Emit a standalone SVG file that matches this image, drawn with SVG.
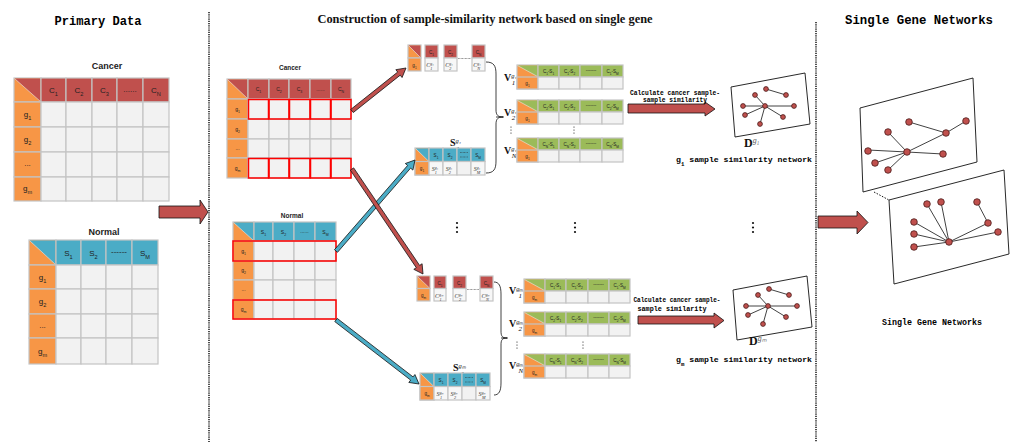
<svg xmlns="http://www.w3.org/2000/svg" width="1010" height="442" viewBox="0 0 1010 442">
<style>
.cl{fill:#f2f2f2;stroke:#c4c4c4;stroke-width:1.2}
.or{fill:#f79646;stroke:#c4c4c4;stroke-width:1.2}
.hr{fill:#c0504d;stroke:#c4c4c4;stroke-width:1.2}
.hb{fill:#4bacc6;stroke:#c4c4c4;stroke-width:1.2}
.hg{fill:#9bbb59;stroke:#c4c4c4;stroke-width:1.2}
.wh{fill:#f7f7f7;stroke:#c4c4c4;stroke-width:1.2}
.rd{fill:none;stroke:#ff0000;stroke-width:1.5}
.dg{stroke:#e8e8e8;stroke-width:0.6}
.tR{fill:#c0504d}.tB{fill:#4bacc6}.tG{fill:#9bbb59}
.s{font-family:"Liberation Sans",Arial,sans-serif;fill:#222;text-anchor:middle}
.f8{font-size:8px}.f5{font-size:5px}.f45{font-size:4.5px}
.lab{font-family:"Liberation Sans",Arial,sans-serif;font-weight:bold;fill:#222;text-anchor:middle}
.m{font-family:"Liberation Serif","Times New Roman",serif;font-style:italic;fill:#333;text-anchor:middle;font-size:6px}
.bm{font-family:"Liberation Serif","Times New Roman",serif;font-weight:bold;fill:#111}
.it{font-style:italic;font-weight:normal}
.sb{font-size:70%;baseline-shift:sub}
.sp{font-size:65%;baseline-shift:super}
.ttl{font-family:"Liberation Mono","DejaVu Sans Mono",monospace;font-weight:bold;fill:#000}
.ar{stroke:#111;stroke-width:0.8;stroke-linejoin:miter}
.nd{fill:#c0504d;stroke:#4a1c1a;stroke-width:0.8}
.ed{stroke:#111;stroke-width:0.8;fill:none}
.pl{fill:#fff;stroke:#111;stroke-width:0.9}
.dv{stroke:#222;stroke-width:1.6;stroke-dasharray:1.2,1;fill:none}
.dl{stroke:#333;stroke-width:0.6;stroke-dasharray:0.8,0.6}
.dot{fill:#111}
</style>

<!-- titles -->
<g id="titles">
<text class="ttl" x="98" y="25" font-size="12.5" text-anchor="middle" textLength="87" lengthAdjust="spacingAndGlyphs">Primary Data</text>
<text class="bm" x="485" y="23" font-size="12" text-anchor="middle" textLength="335" lengthAdjust="spacingAndGlyphs">Construction of sample-similarity network based on single gene</text>
<text class="ttl" x="919" y="24" font-size="13" text-anchor="middle" textLength="148" lengthAdjust="spacingAndGlyphs">Single Gene Networks</text>
</g>

<!-- dividers -->
<g id="dividers">
<line class="dv" x1="209" y1="12" x2="209" y2="442"/>
<line class="dv" x1="816" y1="22" x2="816" y2="442"/>
</g>

<!-- primary cancer table -->
<g id="primary-cancer">
<text class="lab" x="107" y="69" font-size="9">Cancer</text>
<rect class="or" x="14" y="78" width="27" height="24"/>
<polygon class="tR" points="14.6,78.6 40.4,78.6 40.4,101.4"/>
<line class="dg" x1="14.6" y1="78.6" x2="40.4" y2="101.4"/>
<rect class="hr" x="41" y="78" width="25" height="24"/>
<rect class="hr" x="66" y="78" width="26" height="24"/>
<rect class="hr" x="92" y="78" width="25" height="24"/>
<rect class="hr" x="117" y="78" width="26" height="24"/>
<rect class="hr" x="143" y="78" width="26" height="24"/>
<text class="s f8" x="53.5" y="93">C<tspan class="sb">1</tspan></text>
<text class="s f8" x="79" y="93">C<tspan class="sb">2</tspan></text>
<text class="s f8" x="104.5" y="93">C<tspan class="sb">3</tspan></text>
<text class="s f8" x="130" y="92">......</text>
<text class="s f8" x="156" y="93">C<tspan class="sb">N</tspan></text>
<rect class="or" x="14" y="102" width="27" height="25"/>
<rect class="or" x="14" y="127" width="27" height="25"/>
<rect class="or" x="14" y="152" width="27" height="25"/>
<rect class="or" x="14" y="177" width="27" height="24"/>
<text class="s f8" x="27.5" y="117">g<tspan class="sb">1</tspan></text>
<text class="s f8" x="27.5" y="142">g<tspan class="sb">2</tspan></text>
<text class="s f8" x="27.5" y="166">...</text>
<text class="s f8" x="27.5" y="191">g<tspan class="sb">m</tspan></text>
<rect class="cl" x="41" y="102" width="25" height="25"/><rect class="cl" x="66" y="102" width="26" height="25"/><rect class="cl" x="92" y="102" width="25" height="25"/><rect class="cl" x="117" y="102" width="26" height="25"/><rect class="cl" x="143" y="102" width="26" height="25"/>
<rect class="cl" x="41" y="127" width="25" height="25"/><rect class="cl" x="66" y="127" width="26" height="25"/><rect class="cl" x="92" y="127" width="25" height="25"/><rect class="cl" x="117" y="127" width="26" height="25"/><rect class="cl" x="143" y="127" width="26" height="25"/>
<rect class="cl" x="41" y="152" width="25" height="25"/><rect class="cl" x="66" y="152" width="26" height="25"/><rect class="cl" x="92" y="152" width="25" height="25"/><rect class="cl" x="117" y="152" width="26" height="25"/><rect class="cl" x="143" y="152" width="26" height="25"/>
<rect class="cl" x="41" y="177" width="25" height="24"/><rect class="cl" x="66" y="177" width="26" height="24"/><rect class="cl" x="92" y="177" width="25" height="24"/><rect class="cl" x="117" y="177" width="26" height="24"/><rect class="cl" x="143" y="177" width="26" height="24"/>
</g>

<!-- primary normal table -->
<g id="primary-normal">
<text class="lab" x="104" y="235" font-size="9">Normal</text>
<rect class="or" x="29" y="240" width="27" height="25"/>
<polygon class="tB" points="29.6,240.6 55.4,240.6 55.4,264.4"/>
<line class="dg" x1="29.6" y1="240.6" x2="55.4" y2="264.4"/>
<rect class="hb" x="56" y="240" width="25" height="25"/>
<rect class="hb" x="81" y="240" width="25" height="25"/>
<rect class="hb" x="106" y="240" width="26" height="25"/>
<rect class="hb" x="132" y="240" width="26" height="25"/>
<text class="s f8" x="68.5" y="256">S<tspan class="sb">1</tspan></text>
<text class="s f8" x="93.5" y="256">S<tspan class="sb">2</tspan></text>
<text class="s f8" x="119" y="254">------</text>
<text class="s f8" x="145" y="256">S<tspan class="sb">M</tspan></text>
<rect class="or" x="29" y="265" width="27" height="24"/>
<rect class="or" x="29" y="289" width="27" height="25"/>
<rect class="or" x="29" y="314" width="27" height="24"/>
<rect class="or" x="29" y="338" width="27" height="26"/>
<text class="s f8" x="42.5" y="280">g<tspan class="sb">1</tspan></text>
<text class="s f8" x="42.5" y="304">g<tspan class="sb">2</tspan></text>
<text class="s f8" x="42.5" y="328">...</text>
<text class="s f8" x="42.5" y="354">g<tspan class="sb">m</tspan></text>
<rect class="cl" x="56" y="265" width="25" height="24"/><rect class="cl" x="81" y="265" width="25" height="24"/><rect class="cl" x="106" y="265" width="26" height="24"/><rect class="cl" x="132" y="265" width="26" height="24"/>
<rect class="cl" x="56" y="289" width="25" height="25"/><rect class="cl" x="81" y="289" width="25" height="25"/><rect class="cl" x="106" y="289" width="26" height="25"/><rect class="cl" x="132" y="289" width="26" height="25"/>
<rect class="cl" x="56" y="314" width="25" height="24"/><rect class="cl" x="81" y="314" width="25" height="24"/><rect class="cl" x="106" y="314" width="26" height="24"/><rect class="cl" x="132" y="314" width="26" height="24"/>
<rect class="cl" x="56" y="338" width="25" height="26"/><rect class="cl" x="81" y="338" width="25" height="26"/><rect class="cl" x="106" y="338" width="26" height="26"/><rect class="cl" x="132" y="338" width="26" height="26"/>
</g>

<!-- middle cancer table -->
<g id="mid-cancer">
<text class="lab" x="290" y="70" font-size="6.5">Cancer</text>
<rect class="or" x="227" y="79" width="21" height="20"/>
<polygon class="tR" points="227.6,79.6 247.4,79.6 247.4,98.4"/>
<line class="dg" x1="227.6" y1="79.6" x2="247.4" y2="98.4"/>
<rect class="hr" x="248" y="79" width="21" height="20"/><rect class="hr" x="269" y="79" width="20" height="20"/><rect class="hr" x="289" y="79" width="21" height="20"/><rect class="hr" x="310" y="79" width="21" height="20"/><rect class="hr" x="331" y="79" width="20" height="20"/>
<text class="s f5" x="258.5" y="91">C<tspan class="sb">1</tspan></text>
<text class="s f5" x="279" y="91">C<tspan class="sb">2</tspan></text>
<text class="s f5" x="299.5" y="91">C<tspan class="sb">3</tspan></text>
<text class="s f5" x="320.5" y="90.5">......</text>
<text class="s f5" x="341" y="91">C<tspan class="sb">N</tspan></text>
<rect class="or" x="227" y="99" width="21" height="20"/><rect class="or" x="227" y="119" width="21" height="20"/><rect class="or" x="227" y="139" width="21" height="19"/><rect class="or" x="227" y="158" width="21" height="20"/>
<text class="s f5" x="237.5" y="111">g<tspan class="sb">1</tspan></text>
<text class="s f5" x="237.5" y="131">g<tspan class="sb">2</tspan></text>
<text class="s f5" x="237.5" y="150">...</text>
<text class="s f5" x="237.5" y="170">g<tspan class="sb">m</tspan></text>
<rect class="cl" x="248" y="119" width="21" height="20"/><rect class="cl" x="269" y="119" width="20" height="20"/><rect class="cl" x="289" y="119" width="21" height="20"/><rect class="cl" x="310" y="119" width="21" height="20"/><rect class="cl" x="331" y="119" width="20" height="20"/>
<rect class="cl" x="248" y="139" width="21" height="19"/><rect class="cl" x="269" y="139" width="20" height="19"/><rect class="cl" x="289" y="139" width="21" height="19"/><rect class="cl" x="310" y="139" width="21" height="19"/><rect class="cl" x="331" y="139" width="20" height="19"/>
<rect class="cl" x="248" y="99" width="21" height="20"/><rect class="cl" x="269" y="99" width="20" height="20"/><rect class="cl" x="289" y="99" width="21" height="20"/><rect class="cl" x="310" y="99" width="21" height="20"/><rect class="cl" x="331" y="99" width="20" height="20"/>
<rect class="cl" x="248" y="158" width="21" height="20"/><rect class="cl" x="269" y="158" width="20" height="20"/><rect class="cl" x="289" y="158" width="21" height="20"/><rect class="cl" x="310" y="158" width="21" height="20"/><rect class="cl" x="331" y="158" width="20" height="20"/>
<rect class="rd" x="248.5" y="99.5" width="20" height="19.5"/><rect class="rd" x="269" y="99.5" width="20" height="19.5"/><rect class="rd" x="289.5" y="99.5" width="20.5" height="19.5"/><rect class="rd" x="310.5" y="99.5" width="20" height="19.5"/><rect class="rd" x="331" y="99.5" width="20" height="19.5"/>
<rect class="rd" x="248.5" y="158.5" width="20" height="19.5"/><rect class="rd" x="269" y="158.5" width="20" height="19.5"/><rect class="rd" x="289.5" y="158.5" width="20.5" height="19.5"/><rect class="rd" x="310.5" y="158.5" width="20" height="19.5"/><rect class="rd" x="331" y="158.5" width="20" height="19.5"/>
</g>

<!-- middle normal table -->
<g id="mid-normal">
<text class="lab" x="292" y="218" font-size="6.5">Normal</text>
<rect class="or" x="233" y="222" width="21" height="19"/>
<polygon class="tB" points="233.6,222.6 253.4,222.6 253.4,240.4"/>
<line class="dg" x1="233.6" y1="222.6" x2="253.4" y2="240.4"/>
<rect class="hb" x="254" y="222" width="19" height="19"/><rect class="hb" x="273" y="222" width="21" height="19"/><rect class="hb" x="294" y="222" width="21" height="19"/><rect class="hb" x="315" y="222" width="21" height="19"/>
<text class="s f5" x="263.5" y="233.5">S<tspan class="sb">1</tspan></text>
<text class="s f5" x="283.5" y="233.5">S<tspan class="sb">2</tspan></text>
<text class="s f5" x="304.5" y="233">......</text>
<text class="s f5" x="325.5" y="233.5">S<tspan class="sb">M</tspan></text>
<rect class="or" x="233" y="241" width="21" height="20"/><rect class="or" x="233" y="261" width="21" height="19"/><rect class="or" x="233" y="280" width="21" height="20"/><rect class="or" x="233" y="300" width="21" height="19"/>
<text class="s f5" x="243.5" y="253">g<tspan class="sb">1</tspan></text>
<text class="s f5" x="243.5" y="272">g<tspan class="sb">2</tspan></text>
<text class="s f5" x="243.5" y="291">...</text>
<text class="s f5" x="243.5" y="311">g<tspan class="sb">m</tspan></text>
<rect class="cl" x="254" y="241" width="19" height="20"/><rect class="cl" x="273" y="241" width="21" height="20"/><rect class="cl" x="294" y="241" width="21" height="20"/><rect class="cl" x="315" y="241" width="21" height="20"/>
<rect class="cl" x="254" y="261" width="19" height="19"/><rect class="cl" x="273" y="261" width="21" height="19"/><rect class="cl" x="294" y="261" width="21" height="19"/><rect class="cl" x="315" y="261" width="21" height="19"/>
<rect class="cl" x="254" y="280" width="19" height="20"/><rect class="cl" x="273" y="280" width="21" height="20"/><rect class="cl" x="294" y="280" width="21" height="20"/><rect class="cl" x="315" y="280" width="21" height="20"/>
<rect class="cl" x="254" y="300" width="19" height="19"/><rect class="cl" x="273" y="300" width="21" height="19"/><rect class="cl" x="294" y="300" width="21" height="19"/><rect class="cl" x="315" y="300" width="21" height="19"/>
<rect class="rd" x="233" y="241" width="103" height="20"/>
<rect class="rd" x="233" y="300" width="103" height="19"/>
</g>

<!-- C vectors g1 -->
<g id="c-vector-g1">
<rect class="or" x="408" y="45" width="13" height="13"/>
<polygon class="tR" points="408.6,45.6 420.4,45.6 420.4,57.4"/>
<line class="dg" x1="408.6" y1="45.6" x2="420.4" y2="57.4"/>
<rect class="or" x="408" y="58" width="13" height="13"/>
<text class="s f45" x="414.5" y="66.5">g<tspan class="sb">1</tspan></text>
<rect class="hr" x="425" y="45" width="13" height="13"/><rect class="wh" x="425" y="58" width="13" height="13"/>
<rect class="hr" x="444" y="45" width="13" height="13"/><rect class="wh" x="444" y="58" width="13" height="13"/>
<rect class="hr" x="472" y="45" width="13" height="13"/><rect class="wh" x="472" y="58" width="13" height="13"/>
<text class="s f45" x="431.5" y="53.5">C<tspan class="sb">1</tspan></text>
<text class="s f45" x="450.5" y="53.5">C<tspan class="sb">2</tspan></text>
<text class="s f45" x="478.5" y="53.5">C<tspan class="sb">N</tspan></text>
<text class="m" x="430" y="67">C<tspan class="sp">g₁</tspan><tspan class="sb" dx="-3.5">1</tspan></text>
<text class="m" x="449" y="67">C<tspan class="sp">g₁</tspan><tspan class="sb" dx="-3.5">2</tspan></text>
<text class="m" x="477" y="67">C<tspan class="sp">g₁</tspan><tspan class="sb" dx="-3.5">N</tspan></text>
<line class="dl" x1="458" y1="58.5" x2="471" y2="58.5"/>
</g>

<!-- S vector g1 -->
<g id="s-vector-g1">
<text class="bm" x="450" y="146" font-size="10">S<tspan class="sp it">g₁</tspan><tspan class="sb" dx="-4">·</tspan></text>
<rect class="or" x="415" y="148" width="14" height="27"/>
<polygon class="tB" points="415.6,148.6 428.4,148.6 428.4,161"/>
<line class="dg" x1="415.6" y1="148.6" x2="428.4" y2="161"/>
<rect class="or" x="415" y="161.5" width="14" height="13.5"/>
<text class="s f45" x="422" y="170">g<tspan class="sb">1</tspan></text>
<rect class="hb" x="429" y="148" width="14" height="13.5"/><rect class="hb" x="443" y="148" width="14" height="13.5"/><rect class="hb" x="457" y="148" width="14" height="13.5"/><rect class="hb" x="471" y="148" width="14" height="13.5"/>
<text class="s f45" x="436" y="156.5">S<tspan class="sb">1</tspan></text>
<text class="s f45" x="450" y="156.5">S<tspan class="sb">2</tspan></text>
<line class="dl" x1="460" y1="152.5" x2="468" y2="152.5"/><line class="dl" x1="460" y1="157" x2="468" y2="157"/>
<text class="s f45" x="478" y="156.5">S<tspan class="sb">M</tspan></text>
<rect class="wh" x="429" y="161.5" width="14" height="13.5"/><rect class="wh" x="443" y="161.5" width="14" height="13.5"/><rect class="cl" x="457" y="161.5" width="14" height="13.5"/><rect class="wh" x="471" y="161.5" width="14" height="13.5"/>
<text class="m" x="435" y="171">S<tspan class="sp">g₁</tspan><tspan class="sb" dx="-3.5">1</tspan></text>
<text class="m" x="449" y="171">S<tspan class="sp">g₁</tspan><tspan class="sb" dx="-3.5">2</tspan></text>
<text class="m" x="477" y="171">S<tspan class="sp">g₁</tspan><tspan class="sb" dx="-3.5">M</tspan></text>
</g>

<!-- brace g1 -->
<g id="brace-g1">
<path class="ed" stroke-width="1.2" d="M486,62 C494,62 496,66 496,74 L496,110 C496,115 498,117 503,117 C498,117 496,119 496,124 L496,161 C496,169 494,173 486,173"/>
<line class="ed" stroke-width="1.6" x1="496" y1="117" x2="504" y2="117"/>
</g>

<!-- V vectors g1 -->
<g id="v-vectors-g1">
<text class="bm" x="504" y="81" font-size="10">V<tspan class="sp it">g₁</tspan><tspan class="sb it" dx="-5">1</tspan></text>
<text class="bm" x="504" y="116" font-size="10">V<tspan class="sp it">g₁</tspan><tspan class="sb it" dx="-5">2</tspan></text>
<text class="bm" x="504" y="154" font-size="10">V<tspan class="sp it">g₁</tspan><tspan class="sb it" dx="-5">N</tspan></text>
<!-- V1 -->
<rect class="or" x="517" y="65" width="21" height="24"/>
<polygon class="tG" points="517.6,65.6 537.4,65.6 537.4,76.4"/><line class="dg" x1="517.6" y1="65.6" x2="537.4" y2="76.4"/>
<rect class="or" x="517" y="77" width="21" height="12"/>
<rect class="hg" x="538" y="65" width="21" height="12"/><rect class="hg" x="559" y="65" width="21" height="12"/><rect class="hg" x="580" y="65" width="22" height="12"/><rect class="hg" x="602" y="65" width="21" height="12"/>
<rect class="cl" x="538" y="77" width="21" height="12"/><rect class="cl" x="559" y="77" width="21" height="12"/><rect class="cl" x="580" y="77" width="22" height="12"/><rect class="cl" x="602" y="77" width="21" height="12"/>
<text class="s f45" x="548.5" y="72.5">C<tspan class="sb">1</tspan>-S<tspan class="sb">1</tspan></text>
<text class="s f45" x="569.5" y="72.5">C<tspan class="sb">1</tspan>-S<tspan class="sb">2</tspan></text>
<text class="s f45" x="591" y="72">-------</text>
<text class="s f45" x="612.5" y="72.5">C<tspan class="sb">1</tspan>-S<tspan class="sb">M</tspan></text>
<text class="s f45" x="527.5" y="85">g<tspan class="sb">1</tspan></text>
<!-- V2 -->
<rect class="or" x="517" y="100" width="21" height="24"/>
<polygon class="tG" points="517.6,100.6 537.4,100.6 537.4,111.4"/><line class="dg" x1="517.6" y1="100.6" x2="537.4" y2="111.4"/>
<rect class="or" x="517" y="112" width="21" height="12"/>
<rect class="hg" x="538" y="100" width="21" height="12"/><rect class="hg" x="559" y="100" width="21" height="12"/><rect class="hg" x="580" y="100" width="22" height="12"/><rect class="hg" x="602" y="100" width="21" height="12"/>
<rect class="cl" x="538" y="112" width="21" height="12"/><rect class="cl" x="559" y="112" width="21" height="12"/><rect class="cl" x="580" y="112" width="22" height="12"/><rect class="cl" x="602" y="112" width="21" height="12"/>
<text class="s f45" x="548.5" y="107.5">C<tspan class="sb">2</tspan>-S<tspan class="sb">1</tspan></text>
<text class="s f45" x="569.5" y="107.5">C<tspan class="sb">2</tspan>-S<tspan class="sb">2</tspan></text>
<text class="s f45" x="591" y="107">-------</text>
<text class="s f45" x="612.5" y="107.5">C<tspan class="sb">2</tspan>-S<tspan class="sb">M</tspan></text>
<text class="s f45" x="527.5" y="120">g<tspan class="sb">1</tspan></text>
<!-- VN -->
<rect class="or" x="517" y="138" width="21" height="24"/>
<polygon class="tG" points="517.6,138.6 537.4,138.6 537.4,149.4"/><line class="dg" x1="517.6" y1="138.6" x2="537.4" y2="149.4"/>
<rect class="or" x="517" y="150" width="21" height="12"/>
<rect class="hg" x="538" y="138" width="21" height="12"/><rect class="hg" x="559" y="138" width="21" height="12"/><rect class="hg" x="580" y="138" width="22" height="12"/><rect class="hg" x="602" y="138" width="21" height="12"/>
<rect class="cl" x="538" y="150" width="21" height="12"/><rect class="cl" x="559" y="150" width="21" height="12"/><rect class="cl" x="580" y="150" width="22" height="12"/><rect class="cl" x="602" y="150" width="21" height="12"/>
<text class="s f45" x="548.5" y="145.5">C<tspan class="sb">N</tspan>-S<tspan class="sb">1</tspan></text>
<text class="s f45" x="569.5" y="145.5">C<tspan class="sb">N</tspan>-S<tspan class="sb">2</tspan></text>
<text class="s f45" x="591" y="145">-------</text>
<text class="s f45" x="612.5" y="145.5">C<tspan class="sb">N</tspan>-S<tspan class="sb">M</tspan></text>
<text class="s f45" x="527.5" y="158">g<tspan class="sb">1</tspan></text>
<circle class="dot" cx="511" cy="127" r="0.6"/><circle class="dot" cx="511" cy="130" r="0.6"/><circle class="dot" cx="511" cy="133" r="0.6"/>
<circle class="dot" cx="574" cy="127" r="0.6"/><circle class="dot" cx="574" cy="130" r="0.6"/><circle class="dot" cx="574" cy="133" r="0.6"/>
</g>

<!-- C vectors gm -->
<g id="c-vector-gm">
<rect class="or" x="417" y="276" width="13" height="12.5"/>
<polygon class="tR" points="417.6,276.6 429.4,276.6 429.4,287.9"/>
<line class="dg" x1="417.6" y1="276.6" x2="429.4" y2="287.9"/>
<rect class="or" x="417" y="288.5" width="13" height="12.5"/>
<text class="s f45" x="423.5" y="297">g<tspan class="sb">m</tspan></text>
<rect class="hr" x="434" y="276" width="12" height="12.5"/><rect class="wh" x="434" y="288.5" width="12" height="12.5"/>
<rect class="hr" x="453" y="276" width="13" height="12.5"/><rect class="wh" x="453" y="288.5" width="13" height="12.5"/>
<rect class="hr" x="480" y="276" width="13" height="12.5"/><rect class="wh" x="480" y="288.5" width="13" height="12.5"/>
<text class="s f45" x="440" y="284.5">C<tspan class="sb">1</tspan></text>
<text class="s f45" x="459.5" y="284.5">C<tspan class="sb">2</tspan></text>
<text class="s f45" x="486.5" y="284.5">C<tspan class="sb">N</tspan></text>
<text class="m" x="439" y="297.5">C<tspan class="sp">gₘ</tspan><tspan class="sb" dx="-3.5">1</tspan></text>
<text class="m" x="458.5" y="297.5">C<tspan class="sp">gₘ</tspan><tspan class="sb" dx="-3.5">2</tspan></text>
<text class="m" x="485.5" y="297.5">C<tspan class="sp">gₘ</tspan><tspan class="sb" dx="-3.5">N</tspan></text>
<line class="dl" x1="467" y1="289.5" x2="479" y2="289.5"/>
</g>

<!-- S vector gm -->
<g id="s-vector-gm">
<text class="bm" x="453" y="371" font-size="10">S<tspan class="sp it">gₘ</tspan><tspan class="sb" dx="-4">·</tspan></text>
<rect class="or" x="420" y="373" width="14" height="27"/>
<polygon class="tB" points="420.6,373.6 433.4,373.6 433.4,386"/>
<line class="dg" x1="420.6" y1="373.6" x2="433.4" y2="386"/>
<rect class="or" x="420" y="386.5" width="14" height="13.5"/>
<text class="s f45" x="427" y="395">g<tspan class="sb">m</tspan></text>
<rect class="hb" x="434" y="373" width="14" height="13.5"/><rect class="hb" x="448" y="373" width="14" height="13.5"/><rect class="hb" x="462" y="373" width="14" height="13.5"/><rect class="hb" x="476" y="373" width="14" height="13.5"/>
<text class="s f45" x="441" y="381.5">S<tspan class="sb">1</tspan></text>
<text class="s f45" x="455" y="381.5">S<tspan class="sb">2</tspan></text>
<line class="dl" x1="465" y1="377.5" x2="473" y2="377.5"/><line class="dl" x1="465" y1="382" x2="473" y2="382"/>
<text class="s f45" x="483" y="381.5">S<tspan class="sb">M</tspan></text>
<rect class="wh" x="434" y="386.5" width="14" height="13.5"/><rect class="wh" x="448" y="386.5" width="14" height="13.5"/><rect class="cl" x="462" y="386.5" width="14" height="13.5"/><rect class="wh" x="476" y="386.5" width="14" height="13.5"/>
<text class="m" x="440" y="396">S<tspan class="sp">gₘ</tspan><tspan class="sb" dx="-3.5">1</tspan></text>
<text class="m" x="454" y="396">S<tspan class="sp">gₘ</tspan><tspan class="sb" dx="-3.5">2</tspan></text>
<text class="m" x="482" y="396">S<tspan class="sp">gₘ</tspan><tspan class="sb" dx="-3.5">M</tspan></text>
</g>

<!-- brace gm -->
<g id="brace-gm">
<path class="ed" stroke-width="1.2" d="M494,282 C499,282 501,286 501,294 L501,331 C501,336 502,338 507,338 C502,338 501,340 501,345 L501,383 C501,391 499,395 494,395"/>
<line class="ed" stroke-width="1.6" x1="501" y1="338" x2="508" y2="338"/>
</g>

<!-- V vectors gm -->
<g id="v-vectors-gm">
<text class="bm" x="509" y="294" font-size="10">V<tspan class="sp it">gₘ</tspan><tspan class="sb it" dx="-5">1</tspan></text>
<text class="bm" x="509" y="327" font-size="10">V<tspan class="sp it">gₘ</tspan><tspan class="sb it" dx="-5">2</tspan></text>
<text class="bm" x="509" y="369" font-size="10">V<tspan class="sp it">gₘ</tspan><tspan class="sb it" dx="-5">N</tspan></text>
<!-- V1 -->
<rect class="or" x="524" y="279" width="21" height="24"/>
<polygon class="tG" points="524.6,279.6 544.4,279.6 544.4,290.4"/><line class="dg" x1="524.6" y1="279.6" x2="544.4" y2="290.4"/>
<rect class="or" x="524" y="291" width="21" height="12"/>
<rect class="hg" x="545" y="279" width="21" height="12"/><rect class="hg" x="566" y="279" width="22" height="12"/><rect class="hg" x="588" y="279" width="21" height="12"/><rect class="hg" x="609" y="279" width="21" height="12"/>
<rect class="cl" x="545" y="291" width="21" height="12"/><rect class="cl" x="566" y="291" width="22" height="12"/><rect class="cl" x="588" y="291" width="21" height="12"/><rect class="cl" x="609" y="291" width="21" height="12"/>
<text class="s f45" x="555.5" y="286.5">C<tspan class="sb">1</tspan>-S<tspan class="sb">1</tspan></text>
<text class="s f45" x="577" y="286.5">C<tspan class="sb">1</tspan>-S<tspan class="sb">2</tspan></text>
<text class="s f45" x="598.5" y="286">-------</text>
<text class="s f45" x="619.5" y="286.5">C<tspan class="sb">1</tspan>-S<tspan class="sb">M</tspan></text>
<text class="s f45" x="534.5" y="299">g<tspan class="sb">m</tspan></text>
<!-- V2 -->
<rect class="or" x="524" y="312" width="21" height="24"/>
<polygon class="tG" points="524.6,312.6 544.4,312.6 544.4,323.4"/><line class="dg" x1="524.6" y1="312.6" x2="544.4" y2="323.4"/>
<rect class="or" x="524" y="324" width="21" height="12"/>
<rect class="hg" x="545" y="312" width="21" height="12"/><rect class="hg" x="566" y="312" width="22" height="12"/><rect class="hg" x="588" y="312" width="21" height="12"/><rect class="hg" x="609" y="312" width="21" height="12"/>
<rect class="cl" x="545" y="324" width="21" height="12"/><rect class="cl" x="566" y="324" width="22" height="12"/><rect class="cl" x="588" y="324" width="21" height="12"/><rect class="cl" x="609" y="324" width="21" height="12"/>
<text class="s f45" x="555.5" y="319.5">C<tspan class="sb">2</tspan>-S<tspan class="sb">1</tspan></text>
<text class="s f45" x="577" y="319.5">C<tspan class="sb">2</tspan>-S<tspan class="sb">2</tspan></text>
<text class="s f45" x="598.5" y="319">-------</text>
<text class="s f45" x="619.5" y="319.5">C<tspan class="sb">2</tspan>-S<tspan class="sb">M</tspan></text>
<text class="s f45" x="534.5" y="332">g<tspan class="sb">m</tspan></text>
<!-- VN -->
<rect class="or" x="524" y="354" width="21" height="24"/>
<polygon class="tG" points="524.6,354.6 544.4,354.6 544.4,365.4"/><line class="dg" x1="524.6" y1="354.6" x2="544.4" y2="365.4"/>
<rect class="or" x="524" y="366" width="21" height="12"/>
<rect class="hg" x="545" y="354" width="21" height="12"/><rect class="hg" x="566" y="354" width="22" height="12"/><rect class="hg" x="588" y="354" width="21" height="12"/><rect class="hg" x="609" y="354" width="21" height="12"/>
<rect class="cl" x="545" y="366" width="21" height="12"/><rect class="cl" x="566" y="366" width="22" height="12"/><rect class="cl" x="588" y="366" width="21" height="12"/><rect class="cl" x="609" y="366" width="21" height="12"/>
<text class="s f45" x="555.5" y="361.5">C<tspan class="sb">N</tspan>-S<tspan class="sb">1</tspan></text>
<text class="s f45" x="577" y="361.5">C<tspan class="sb">N</tspan>-S<tspan class="sb">2</tspan></text>
<text class="s f45" x="598.5" y="361">-------</text>
<text class="s f45" x="619.5" y="361.5">C<tspan class="sb">N</tspan>-S<tspan class="sb">M</tspan></text>
<text class="s f45" x="534.5" y="374">g<tspan class="sb">m</tspan></text>
<circle class="dot" cx="517" cy="342" r="0.6"/><circle class="dot" cx="517" cy="345" r="0.6"/><circle class="dot" cx="517" cy="348" r="0.6"/>
<circle class="dot" cx="583" cy="342" r="0.6"/><circle class="dot" cx="583" cy="345" r="0.6"/><circle class="dot" cx="583" cy="348" r="0.6"/>
</g>

<!-- vertical ellipsis -->
<g id="ellipsis">
<circle class="dot" cx="457" cy="223" r="1.1"/><circle class="dot" cx="457" cy="227.5" r="1.1"/><circle class="dot" cx="457" cy="232" r="1.1"/>
<circle class="dot" cx="575" cy="223" r="1.1"/><circle class="dot" cx="575" cy="227.5" r="1.1"/><circle class="dot" cx="575" cy="232" r="1.1"/>
<circle class="dot" cx="753" cy="223" r="1.1"/><circle class="dot" cx="753" cy="227.5" r="1.1"/><circle class="dot" cx="753" cy="232" r="1.1"/>
</g>

<!-- network g1 -->
<g id="network-g1">
<polygon class="pl" points="731,87 805,73 810,124 735,137"/>
<g class="ed">
<line x1="765" y1="106" x2="755" y2="95"/><line x1="765" y1="106" x2="743" y2="106"/><line x1="765" y1="106" x2="794" y2="106"/><line x1="765" y1="106" x2="745" y2="115"/><line x1="765" y1="106" x2="783" y2="117"/><line x1="765" y1="106" x2="760" y2="124"/><line x1="766" y1="89" x2="786" y2="95"/>
</g>
<circle class="nd" cx="765" cy="106" r="2.4"/><circle class="nd" cx="755" cy="95" r="2.4"/><circle class="nd" cx="766" cy="89" r="2.4"/><circle class="nd" cx="786" cy="95" r="2.4"/><circle class="nd" cx="743" cy="106" r="2.4"/><circle class="nd" cx="794" cy="106" r="2.4"/><circle class="nd" cx="745" cy="115" r="2.4"/><circle class="nd" cx="783" cy="117" r="2.4"/><circle class="nd" cx="760" cy="124" r="2.4"/>
<text class="bm" x="744" y="147" font-size="12">D<tspan class="sp it" font-size="7" fill="#555">g₁</tspan></text>
<text class="ttl" x="744" y="162" font-size="8" text-anchor="middle" textLength="136" lengthAdjust="spacingAndGlyphs">g<tspan class="sb">1</tspan> sample similarity network</text>
</g>

<!-- network gm -->
<g id="network-gm">
<polygon class="pl" points="733,290 807,276 812,327 737,340"/>
<g class="ed">
<line x1="768" y1="306" x2="758" y2="295"/><line x1="768" y1="306" x2="746" y2="306"/><line x1="768" y1="306" x2="797" y2="306"/><line x1="768" y1="306" x2="748" y2="315"/><line x1="768" y1="306" x2="786" y2="317"/><line x1="768" y1="306" x2="763" y2="324"/><line x1="769" y1="289" x2="789" y2="295"/>
</g>
<circle class="nd" cx="768" cy="306" r="2.4"/><circle class="nd" cx="758" cy="295" r="2.4"/><circle class="nd" cx="769" cy="289" r="2.4"/><circle class="nd" cx="789" cy="295" r="2.4"/><circle class="nd" cx="746" cy="306" r="2.4"/><circle class="nd" cx="797" cy="306" r="2.4"/><circle class="nd" cx="748" cy="315" r="2.4"/><circle class="nd" cx="786" cy="317" r="2.4"/><circle class="nd" cx="763" cy="324" r="2.4"/>
<text class="bm" x="749" y="345" font-size="12">D<tspan class="sp it" font-size="7" fill="#555">gₘ</tspan></text>
<text class="ttl" x="744" y="362" font-size="8" text-anchor="middle" textLength="136" lengthAdjust="spacingAndGlyphs">g<tspan class="sb">m</tspan> sample similarity network</text>
</g>

<!-- single gene networks (right) -->
<g id="single-gene-networks">
<polygon class="pl" points="860,108 973,78 977,162 863,192"/>
<g class="ed">
<line x1="909" y1="122" x2="946" y2="133"/><line x1="946" y1="133" x2="966" y2="121"/><line x1="946" y1="133" x2="907" y2="152"/><line x1="888" y1="132" x2="907" y2="152"/><line x1="868" y1="150" x2="907" y2="152"/><line x1="907" y1="152" x2="943" y2="154"/><line x1="907" y1="152" x2="875" y2="163"/><line x1="907" y1="152" x2="888" y2="170"/>
</g>
<circle class="nd" cx="909" cy="122" r="3.3"/><circle class="nd" cx="966" cy="121" r="3.3"/><circle class="nd" cx="946" cy="133" r="3.3"/><circle class="nd" cx="888" cy="132" r="3.3"/><circle class="nd" cx="868" cy="151" r="3.3"/><circle class="nd" cx="907" cy="152" r="3.3"/><circle class="nd" cx="943" cy="154" r="3.3"/><circle class="nd" cx="875" cy="163" r="3.3"/><circle class="nd" cx="888" cy="170" r="3.3"/>
<line x1="874" y1="192" x2="902" y2="207" stroke="#111" stroke-width="1" stroke-dasharray="1.5,1.5"/>
<polygon class="pl" points="889,200 1004,170 1009,254 894,284"/>
<g class="ed">
<line x1="949" y1="242" x2="927" y2="204"/><line x1="949" y1="242" x2="941" y2="202"/><line x1="949" y1="242" x2="914" y2="222"/><line x1="949" y1="242" x2="914" y2="234"/><line x1="949" y1="242" x2="914" y2="247"/><line x1="949" y1="242" x2="988" y2="223"/><line x1="949" y1="242" x2="998" y2="232"/><line x1="977" y1="202" x2="988" y2="223"/>
</g>
<circle class="nd" cx="927" cy="204" r="3.3"/><circle class="nd" cx="941" cy="202" r="3.3"/><circle class="nd" cx="977" cy="202" r="3.3"/><circle class="nd" cx="914" cy="222" r="3.3"/><circle class="nd" cx="988" cy="223" r="3.3"/><circle class="nd" cx="914" cy="234" r="3.3"/><circle class="nd" cx="998" cy="232" r="3.3"/><circle class="nd" cx="949" cy="242" r="3.3"/><circle class="nd" cx="914" cy="247" r="3.3"/>
<text class="ttl" x="932" y="325" font-size="8.3" text-anchor="middle" textLength="100" lengthAdjust="spacingAndGlyphs">Single Gene Networks</text>
</g>

<!-- connectors -->
<g id="connectors">
<polygon class="ar" fill="#c0504d" points="159,206 200,206 200,200 208,212 200,224 200,218 159,218"/>
<polygon class="ar" fill="#c0504d" points="818,216 857,216 857,211 868,222.5 857,234 857,228 818,228"/>
<polygon class="ar" fill="#c0504d" points="353.25,112.56 400.21,75.17 402.07,77.52 406,68 395.85,69.70 397.71,72.05 350.75,109.44"/>
<polygon class="ar" fill="#4bacc6" points="334.78,321.58 410.65,380.08 408.82,382.46 419,384 414.92,374.54 413.09,376.92 337.22,318.42"/>
<polygon class="ar" fill="#4bacc6" points="337.51,252.31 410.61,168.11 412.88,170.08 415,160 405.32,163.52 407.59,165.49 334.49,249.69"/>
<polygon class="ar" fill="#c0504d" points="350.34,170.12 416.30,267.66 413.82,269.34 423,274 422.10,263.74 419.62,265.42 353.66,167.88"/>
<polygon class="ar" fill="#c0504d" points="628,104 705,104 705,102 715,109 705,116 705,113 628,113"/>
<polygon class="ar" fill="#c0504d" points="638,316 714,316 714,313 724,320.5 714,328 714,324 638,324"/>
<text class="ttl" x="675" y="94.5" font-size="6.5" text-anchor="middle" textLength="90" lengthAdjust="spacingAndGlyphs">Calculate cancer sample-</text>
<text class="ttl" x="675" y="101.5" font-size="6.5" text-anchor="middle" textLength="64" lengthAdjust="spacingAndGlyphs">sample similarity</text>
<text class="ttl" x="677" y="302" font-size="6.5" text-anchor="middle" textLength="87" lengthAdjust="spacingAndGlyphs">Calculate cancer sample-</text>
<text class="ttl" x="672" y="311" font-size="6.5" text-anchor="middle" textLength="69" lengthAdjust="spacingAndGlyphs">sample similarity</text>
</g>
</svg>
